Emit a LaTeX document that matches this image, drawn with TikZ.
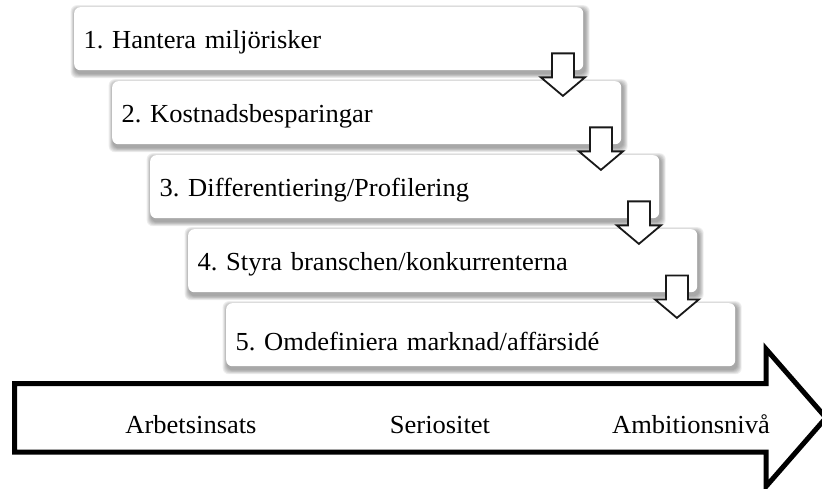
\documentclass[tikz,border=0pt]{standalone}
\usepackage{fontspec}
\setmainfont{Liberation Serif}[FakeStretch=1.02]
\usetikzlibrary{calc,backgrounds}
\frenchspacing
\begin{document}
\begin{tikzpicture}[x=1pt,y=1pt,
  labelfont/.style={font=\fontsize{26}{30}\selectfont},
  stepbox/.style={labelfont, fill=white, rounded corners=6pt, anchor=north west,
    minimum height=63pt, text width=490pt, inner xsep=9.5pt, inner ysep=0pt,
    align=left, text height=21pt, text depth=2pt},
  lowtext/.style={text height=33pt},
  hollowarrow/.style={draw=black!90, line width=1.8pt, fill=white, line join=miter},
  bigarrow/.style={draw=black, line width=5pt, fill=white, line join=miter, miter limit=10},
  axislabel/.style={labelfont, anchor=base, inner sep=0pt},
  softshadow/.style={black, opacity=0.065, rounded corners=6pt},
]
\useasboundingbox (0,0) rectangle (822,488);
\clip (0,0) rectangle (822,488);

% staircase of steps
\node[stepbox] (b1) at (74,481) {1. Hantera miljörisker};
\node[stepbox] (b2) at (112,407) {2. Kostnadsbesparingar};
\node[stepbox] (b3) at (150,333) {3. Differentiering/Profilering};
\node[stepbox] (b4) at (188,259) {4. Styra branschen/konkurrenterna};
\node[stepbox, lowtext] (b5) at (226,185) {5. Omdefiniera marknad/affärsidé};

% soft shadows behind the steps
\begin{scope}[on background layer]
  \foreach \b in {b1,b2,b3,b4,b5} {
    \foreach \k in {1,...,6} {
      \fill[softshadow] ($(\b.south west)+(1.5-0.8*\k,-3-0.8*\k)$)
        rectangle ($(\b.north east)+(1.5+0.8*\k,-3+0.8*\k)$);
    }
  }
\end{scope}

% hollow arrows leading from one step to the next
\foreach \i in {1,...,4} {
  \coordinate (c\i) at ($(b\i.south east)+(-20.5,0)$);
  \draw[hollowarrow] ($(c\i)+(-11,17)$) -- ($(c\i)+(11,17)$) -- ($(c\i)+(11,-7)$)
    -- ($(c\i)+(22,-7)$) -- ($(c\i)+(0,-25.5)$) -- ($(c\i)+(-22,-7)$)
    -- ($(c\i)+(-11,-7)$) -- cycle;
}

% large arrow along the bottom
\coordinate (tip) at (826,70.25);
\draw[bigarrow] (14.5,104.5) -- (766,104.5) -- (766,139) -- (tip)
  -- (766,1.5) -- (766,36) -- (14.5,36) -- cycle;

\node[axislabel] (l1) at (191,55) {Arbetsinsats};
\node[axislabel] (l2) at (440,55) {Seriositet};
\node[axislabel] (l3) at (691,55) {Ambitionsnivå};
\end{tikzpicture}
\end{document}
